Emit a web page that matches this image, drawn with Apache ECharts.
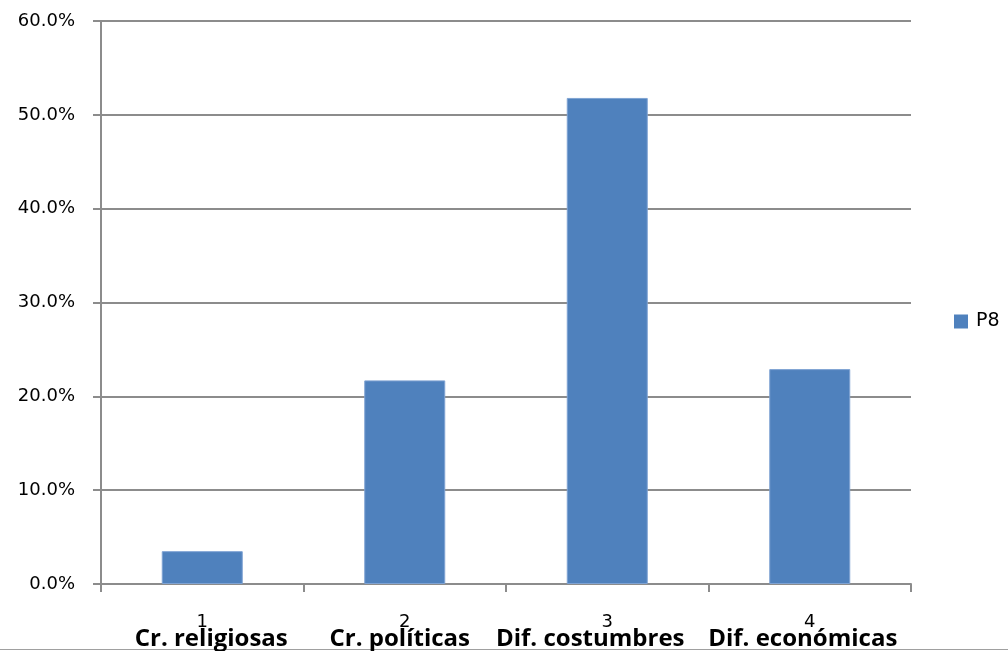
<!DOCTYPE html>
<html>
<head>
<meta charset="utf-8">
<script src="https://cdn.jsdelivr.net/npm/echarts@6/dist/echarts.min.js"></script>
<style>html,body{margin:0;padding:0;background:#fff;}#c{width:1008px;height:651px;}</style>
</head>
<body>
<div id="c"></div>
<script>
const categoryNumbers = ['1', '2', '3', '4'];
const categoryNames = ['Cr. religiosas', 'Cr. políticas', 'Dif. costumbres', 'Dif. económicas'];
const seriesName = 'P8';
const values = [0.035, 0.217, 0.518, 0.229];

// horizontal nudges of the bold category names (style only)
const namePadding = [[0, 0, 0, 18], [0, 10, 0, 0], [0, 34, 0, 0], [0, 14, 0, 0]];

const rich = {n: {fontFamily: 'DejaVu Sans', fontSize: 18, color: '#000', lineHeight: 12}};
namePadding.forEach((p, i) => {
  rich['b' + i] = {fontFamily: 'Open Sans', fontWeight: 'bold', fontSize: 24, color: '#000', lineHeight: 22, padding: p};
});

const chart = echarts.init(document.getElementById('c'), null, {renderer: 'canvas'});
chart.setOption({
  animation: false,
  backgroundColor: '#ffffff',
  grid: {left: 101, right: 97, top: 21, bottom: 67, containLabel: false},
  legend: {
    show: true,
    orient: 'vertical',
    left: 954,
    top: 312,
    padding: 0,
    itemWidth: 14,
    itemHeight: 14,
    icon: 'rect',
    itemStyle: {borderWidth: 0},
    textStyle: {fontFamily: 'DejaVu Sans', fontSize: 19, color: '#000', padding: [0, 0, 0, 3]},
    data: [seriesName]
  },
  xAxis: {
    type: 'category',
    data: categoryNumbers.map((n, i) => n + '\n' + categoryNames[i]),
    boundaryGap: true,
    axisLine: {show: true, lineStyle: {color: '#8c8c8c', width: 2}},
    axisTick: {show: true, alignWithLabel: false, length: 8, lineStyle: {color: '#8c8c8c', width: 2}},
    axisLabel: {
      margin: 32,
      interval: 0,
      formatter: function (v, idx) {
        const parts = v.split('\n');
        return '{n|' + parts[0] + '}\n{b' + idx + '|' + parts[1] + '}';
      },
      rich: rich
    }
  },
  yAxis: {
    type: 'value',
    min: 0,
    max: 0.6,
    interval: 0.1,
    axisLine: {show: true, lineStyle: {color: '#8c8c8c', width: 2}},
    axisTick: {show: true, length: 8, lineStyle: {color: '#8c8c8c', width: 2}},
    splitLine: {show: true, lineStyle: {color: '#8c8c8c', width: 2}},
    axisLabel: {
      margin: 26,
      fontFamily: 'DejaVu Sans',
      fontSize: 18,
      color: '#000',
      formatter: function (v) { return (v * 100).toFixed(1) + '%'; }
    }
  },
  series: [{
    name: seriesName,
    type: 'bar',
    data: values,
    barWidth: '40%',
    itemStyle: {color: '#4F81BD', borderColor: '#7fa3d3', borderWidth: 1}
  }],
  graphic: [{
    type: 'line',
    shape: {x1: 0, y1: 649.5, x2: 1008, y2: 649.5},
    style: {stroke: '#a0a0a0', lineWidth: 1}
  }]
});
</script>
</body>
</html>
